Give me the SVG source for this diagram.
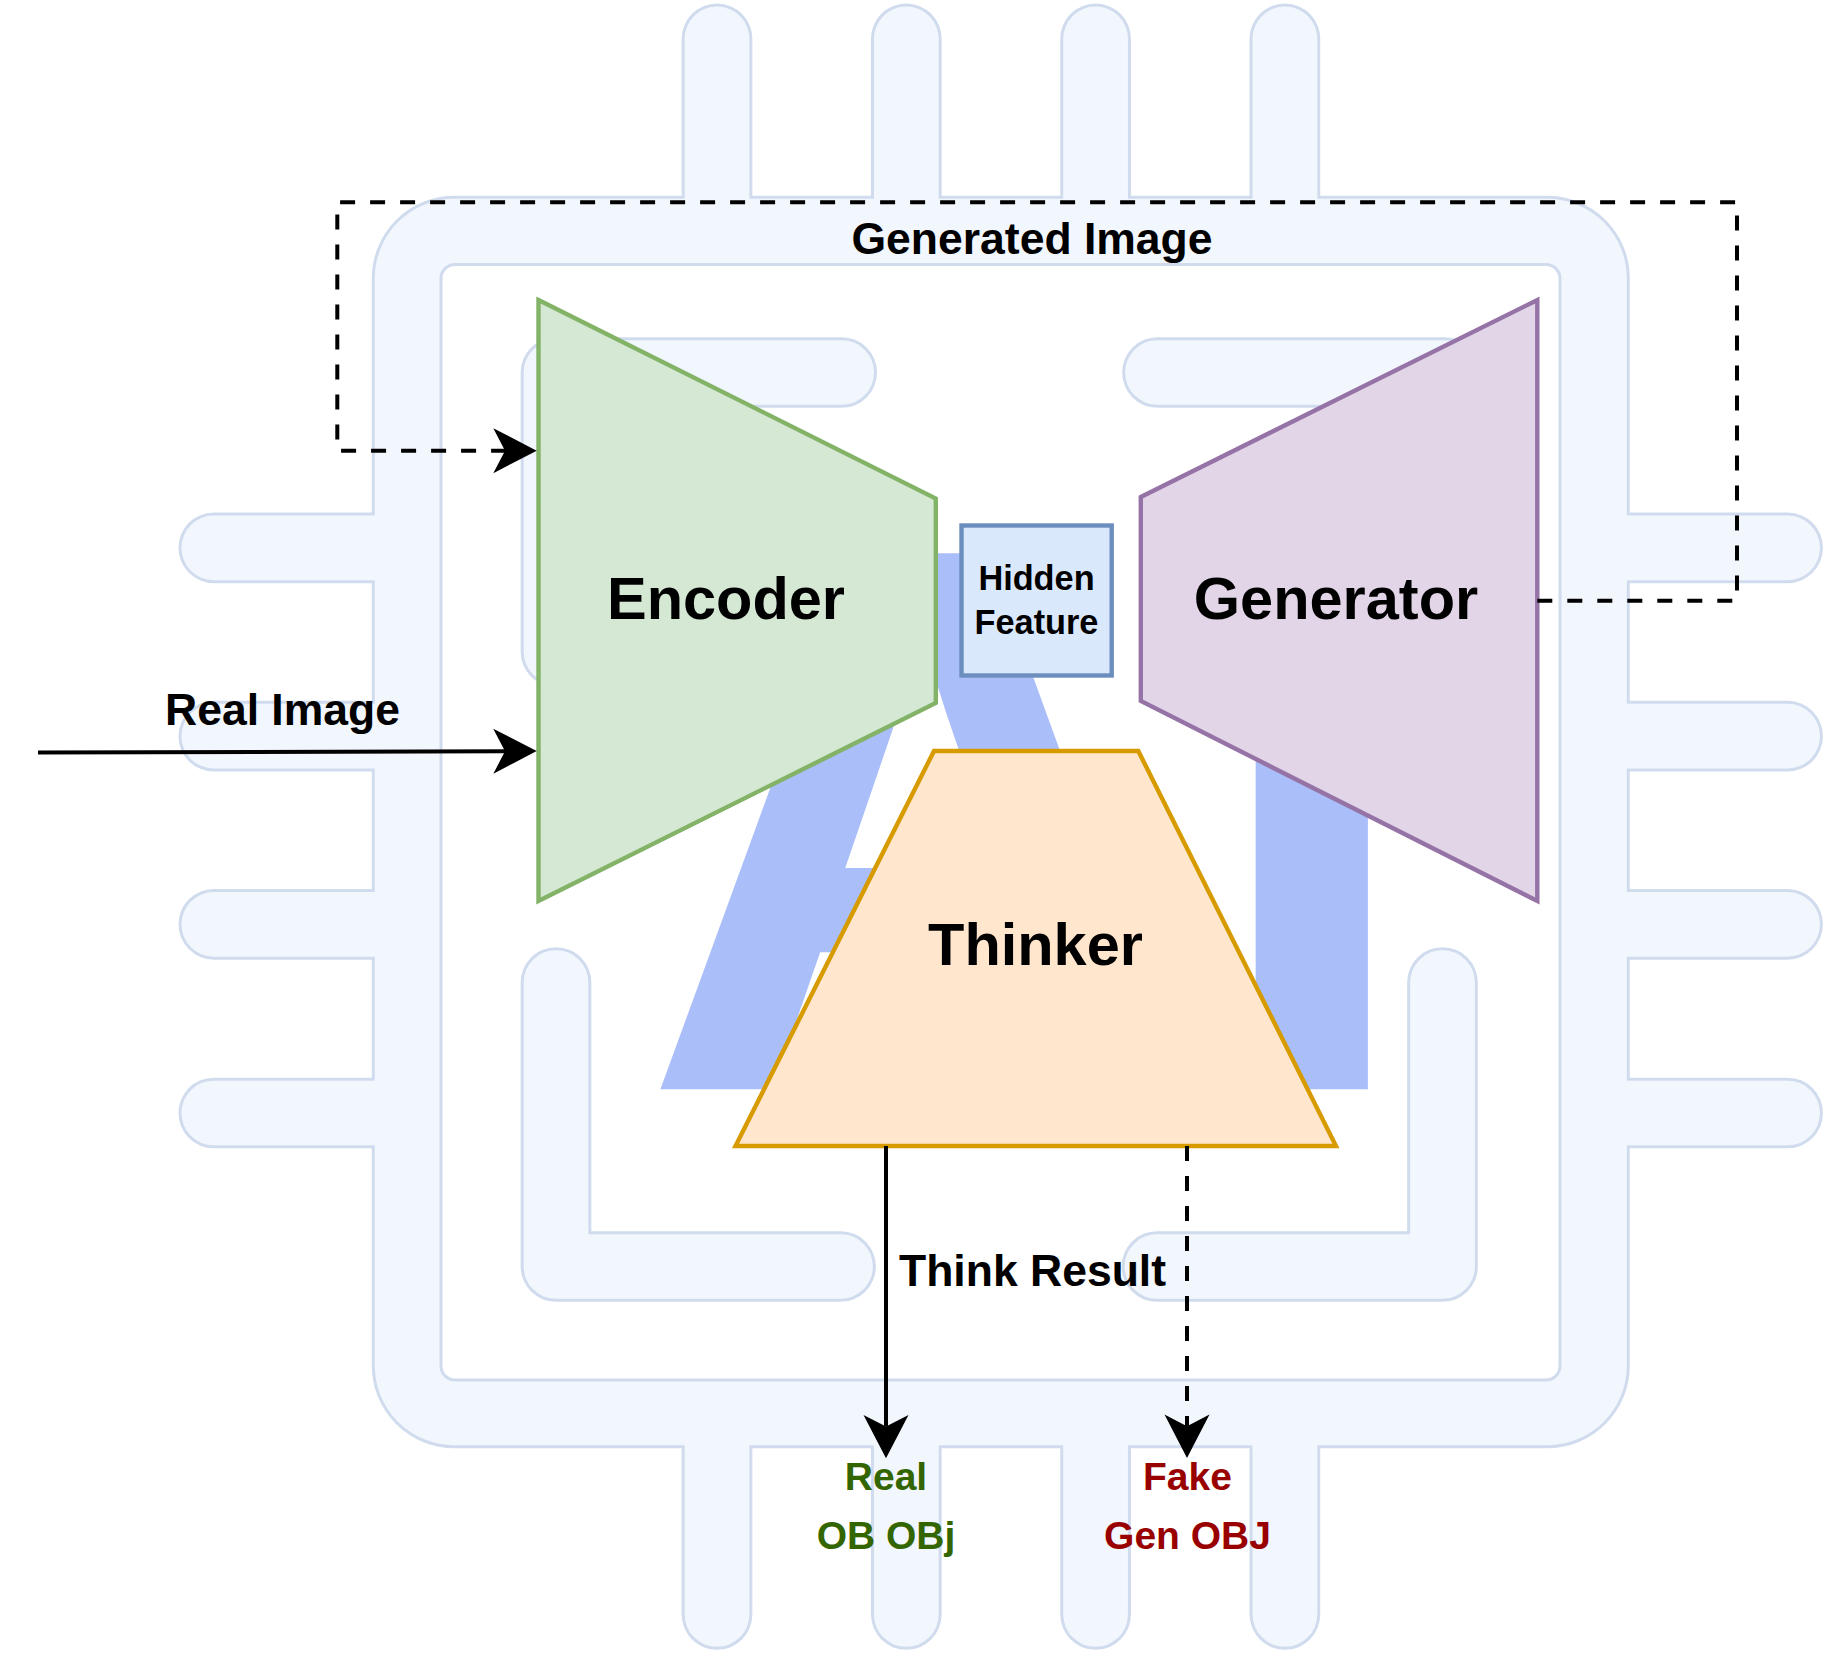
<svg xmlns="http://www.w3.org/2000/svg" width="1830" height="1655" viewBox="0 0 1830 1655">
<style>
  .chipline { fill:none; stroke:#D0DCEE; stroke-width:70.7; stroke-linecap:round; stroke-linejoin:round; }
  .chipfill { fill:none; stroke:#F2F6FD; stroke-width:64.7; stroke-linecap:round; stroke-linejoin:round; }
  .body { fill:#F2F6FD; stroke:#D0DCEE; stroke-width:3; fill-rule:evenodd; }
  .node { stroke-width:4.4; }
  .t { font-family:"Liberation Sans", Arial, Helvetica, sans-serif; font-weight:bold; text-anchor:middle; fill:#000; }
  .edge { fill:none; stroke:#000; stroke-width:4; }
  .dash { stroke-dasharray:15 15; }
</style>
<defs>
  <marker id="ah" markerUnits="userSpaceOnUse" viewBox="-15 -25 50 50" markerWidth="50" markerHeight="50" refX="0" refY="0" orient="auto" overflow="visible">
    <path d="M31.7,0 L-11.7,-22.5 L0,0 L-11.7,22.5 Z" fill="#000" stroke="none"/>
  </marker>
</defs>
<rect x="0" y="0" width="1830" height="1655" fill="#FFFFFF"/>

<g id="chip">
  <path class="chipline" d="M717,38.8V197.3 M906.3,38.8V197.3 M1095.6,38.8V197.3 M1284.9,38.8V197.3 M717,1446.7V1614.5 M906.3,1446.7V1614.5 M1095.6,1446.7V1614.5 M1284.9,1446.7V1614.5 M213.8,547.8H373.3 M213.8,736.2H373.3 M213.8,924.3H373.3 M213.8,1113H373.3 M1628.3,547.8H1787.6 M1628.3,736.2H1787.6 M1628.3,924.3H1787.6 M1628.3,1113H1787.6"/>
  <path class="body" d="M454.3,197.3 H1547.3 A81,81 0 0 1 1628.3,278.3 V1365.7 A81,81 0 0 1 1547.3,1446.7 H454.3 A81,81 0 0 1 373.3,1365.7 V278.3 A81,81 0 0 1 454.3,197.3 Z M455,264.5 H1546 A14,14 0 0 1 1560,278.5 V1366 A14,14 0 0 1 1546,1380 H455 A14,14 0 0 1 441,1366 V278.5 A14,14 0 0 1 455,264.5 Z"/>
  <path class="chipfill" d="M717,38.8V207.3 M906.3,38.8V207.3 M1095.6,38.8V207.3 M1284.9,38.8V207.3 M717,1436.7V1614.5 M906.3,1436.7V1614.5 M1095.6,1436.7V1614.5 M1284.9,1436.7V1614.5 M213.8,547.8H383.3 M213.8,736.2H383.3 M213.8,924.3H383.3 M213.8,1113H383.3 M1618.3,547.8H1787.6 M1618.3,736.2H1787.6 M1618.3,924.3H1787.6 M1618.3,1113H1787.6"/>
  <path class="chipline" d="M841.7,372.5 H556 V651.7 M1157.5,372.5 H1445 V651.7 M556,982.5 V1266.5 H840.5 M1157,1266.5 H1442.5 V982.5"/>
  <path class="chipfill" d="M841.7,372.5 H556 V651.7 M1157.5,372.5 H1445 V651.7 M556,982.5 V1266.5 H840.5 M1157,1266.5 H1442.5 V982.5"/>
  <text x="641" y="1089.3" font-family="Liberation Sans, Arial, sans-serif" font-weight="bold" font-size="779" fill="#AABEFA">AI</text>
</g>

<g id="encoder">
  <polygon class="node" points="538.5,300 935.8,498.5 935.8,703 538.5,901" fill="#D5E8D4" stroke="#82B366"/>
  <text class="t" x="726" y="619" font-size="59.5">Encoder</text>
</g>
<g id="generator">
  <polygon class="node" points="1140.8,497 1537.3,300 1537.3,901 1140.8,701" fill="#E1D5E7" stroke="#9673A6"/>
  <text class="t" x="1336" y="619" font-size="59.5">Generator</text>
</g>
<g id="thinker">
  <polygon class="node" points="934,751 1138.3,751 1336,1146 735.5,1146" fill="#FFE6CC" stroke="#D79B00"/>
  <text class="t" x="1035.5" y="965" font-size="59.5">Thinker</text>
</g>
<g id="hidden-feature">
  <rect class="node" x="961.5" y="525.5" width="150.2" height="150" fill="#DAE8FC" stroke="#6C8EBF"/>
  <text class="t" x="1036.5" y="590" font-size="34.3">Hidden</text>
  <text class="t" x="1036.5" y="634.3" font-size="34.3">Feature</text>
</g>
<g id="real-label">
  <text class="t" x="886" y="1489.5" font-size="39" style="fill:#336600">Real</text>
  <text class="t" x="886" y="1548.5" font-size="39" style="fill:#336600">OB OBj</text>
</g>
<g id="fake-label">
  <text class="t" x="1187.5" y="1489.5" font-size="39" style="fill:#990000">Fake</text>
  <text class="t" x="1187.5" y="1548.5" font-size="39" style="fill:#990000">Gen OBJ</text>
</g>

<g id="connectors">
  <g id="edge-generated">
    <path class="edge dash" d="M1537.3,600.7 H1737 V202.3 H337.3 V450.7 H505" marker-end="url(#ah)"/>
    <text class="t" x="1032" y="254" font-size="44.5">Generated Image</text>
  </g>
  <g id="edge-real-image">
    <path class="edge" d="M38,752.5 L505,751.2" marker-end="url(#ah)"/>
    <text class="t" x="282.5" y="724.5" font-size="44.5">Real Image</text>
  </g>
  <g id="edge-think-real">
    <path class="edge" d="M886,1146 V1426.6" marker-end="url(#ah)"/>
    <text class="t" x="1032.5" y="1286" font-size="44.5">Think Result</text>
  </g>
  <g id="edge-think-fake">
    <path class="edge dash" d="M1187,1146 V1426.3" marker-end="url(#ah)"/>
  </g>
</g>
</svg>
